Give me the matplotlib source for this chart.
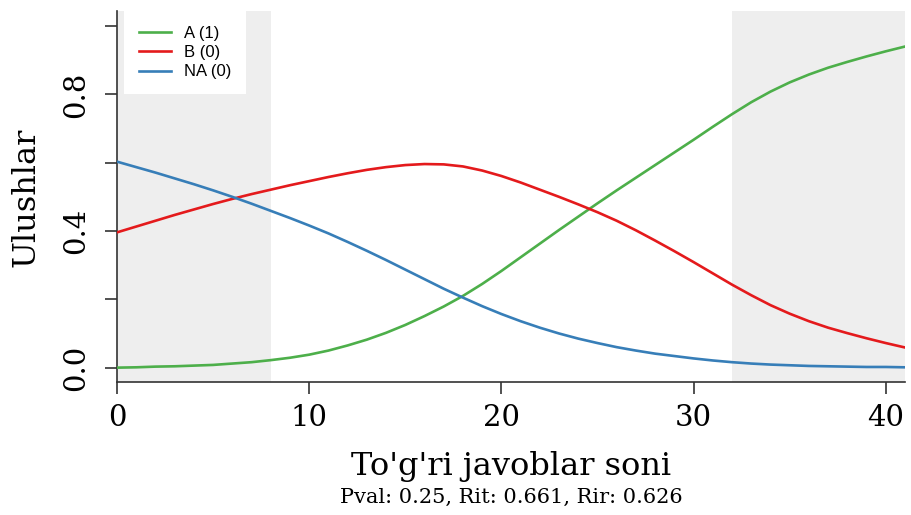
import numpy as np
import matplotlib
matplotlib.use("Agg")
import matplotlib.pyplot as plt
from matplotlib.lines import Line2D

# Number of correct answers (total score)
score = np.arange(0, 42)

# Share of examinees choosing each option at every score
share_a = [0.000, 0.001, 0.003, 0.004, 0.006, 0.008, 0.012, 0.016, 0.022, 0.029,
           0.038, 0.050, 0.065, 0.082, 0.102, 0.125, 0.151, 0.179, 0.210, 0.245,
           0.283, 0.323, 0.363, 0.403, 0.442, 0.481, 0.519, 0.556, 0.593, 0.630,
           0.667, 0.705, 0.742, 0.777, 0.808, 0.835, 0.858, 0.878, 0.895, 0.911,
           0.926, 0.940]
share_b = [0.396, 0.413, 0.430, 0.447, 0.463, 0.479, 0.494, 0.508, 0.521, 0.534,
           0.546, 0.558, 0.569, 0.579, 0.587, 0.593, 0.596, 0.595, 0.589, 0.577,
           0.561, 0.542, 0.521, 0.500, 0.478, 0.455, 0.430, 0.402, 0.372, 0.341,
           0.309, 0.276, 0.243, 0.212, 0.183, 0.158, 0.136, 0.117, 0.101, 0.086,
           0.072, 0.059]
share_na = [0.603, 0.587, 0.571, 0.554, 0.537, 0.519, 0.500, 0.480, 0.459, 0.438,
            0.416, 0.393, 0.368, 0.342, 0.315, 0.287, 0.259, 0.231, 0.205, 0.180,
            0.157, 0.136, 0.117, 0.100, 0.085, 0.072, 0.060, 0.050, 0.041, 0.034,
            0.027, 0.021, 0.016, 0.012, 0.009, 0.007, 0.005, 0.004, 0.003, 0.002,
            0.002, 0.001]

labels = ["A (1)", "B (0)", "NA (0)"]
colors = ["#4DAF4A", "#E41A1C", "#377EB8"]

# Lower / upper score groups
low_cut = 8
high_cut = 32
x_max = 41

serif = "DejaVu Serif"

fig = plt.figure(figsize=(9.11, 5.15), dpi=100)
ax = fig.add_axes([117 / 911, 133 / 515, 788 / 911, 371 / 515])

ax.axvspan(0, low_cut, color="#EEEEEE", lw=0, zorder=0)
ax.axvspan(high_cut, x_max, color="#EEEEEE", lw=0, zorder=0)

for vals, c in zip([share_a, share_b, share_na], colors):
    ax.plot(score, vals, color=c, lw=1.9, zorder=3)

ax.set_xlim(0, x_max)
ax.set_ylim(-0.042, 1.044)

ax.spines["top"].set_visible(False)
ax.spines["right"].set_visible(False)
for s in ["left", "bottom"]:
    ax.spines[s].set_color("#333333")
    ax.spines[s].set_linewidth(1.2)

ax.set_xticks([0, 10, 20, 30, 40])
ax.set_yticks([0, 0.2, 0.4, 0.6, 0.8, 1.0])
ax.set_yticklabels(["0.0", "", "0.4", "", "0.8", ""])
ax.tick_params(axis="both", length=8.5, width=1.2, color="#333333",
               labelsize=21, labelcolor="black")
ax.tick_params(axis="x", pad=7)
ax.tick_params(axis="y", pad=11)
for t in ax.get_xticklabels() + ax.get_yticklabels():
    t.set_family(serif)
for t in ax.get_yticklabels():
    t.set_rotation(90)
    t.set_va("center")

handles = [Line2D([], [], color=c, lw=1.9) for c in colors]
leg = ax.legend(handles, labels, loc="upper left", bbox_to_anchor=(0.009, 1.0),
                frameon=True, fancybox=False, framealpha=1, facecolor="white",
                edgecolor="none", prop={"family": "Liberation Sans", "size": 12},
                handlelength=1.9, handletextpad=0.8, labelspacing=0.25,
                borderpad=0.9, borderaxespad=0)
leg.set_zorder(5)

fig.text(511 / 911, 1 - 467 / 515, "To'g'ri javoblar soni", ha="center", va="center",
         family=serif, fontsize=23)
fig.text(511 / 911, 1 - 497 / 515, "Pval: 0.25, Rit: 0.661, Rir: 0.626", ha="center",
         va="center", family=serif, fontsize=15)
fig.text(26 / 911, 1 - 197 / 515, "Ulushlar", ha="center", va="center", rotation=90,
         family=serif, fontsize=23)

fig.savefig("out.png", dpi=100)
